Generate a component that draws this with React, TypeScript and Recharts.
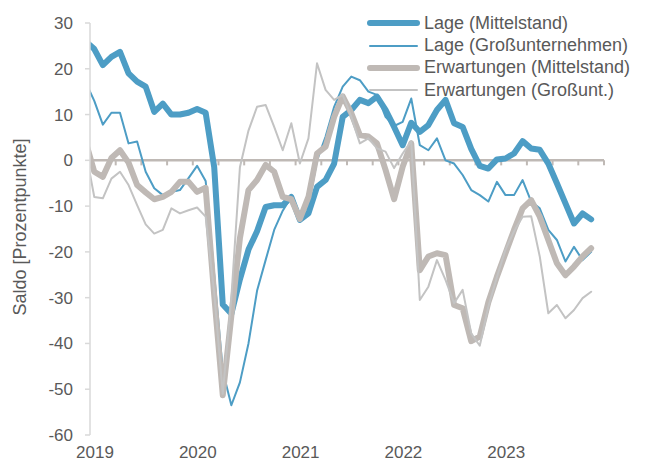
import { LineChart, Line, XAxis, YAxis, ReferenceLine } from 'recharts'

// Monatswerte Dez 2018 bis Nov 2023 (Dez 2018 liegt links außerhalb der Achse und wird abgeschnitten)
const lageMittelstand = [
  26, 24.3, 20.8, 22.6, 23.7, 19, 17.2, 16.1, 10.6, 12.4, 10, 10, 10.4,
  11.2, 10.4, -1.5, -31.5, -33.5, -26, -19.5, -15.5, -10.2, -9.8, -9.8, -8,
  -13, -11.6, -5.8, -4.3, -0.7, 9.5, 11, 13.2, 12.5, 13.9, 11, 7.3,
  3.3, 8.2, 6.2, 7.7, 11, 13.2, 8.1, 7.3, 2.5, -1.2, -1.8, 0.2,
  0.4, 1.5, 4.2, 2.6, 2.3, -0.7, -5, -9.4, -13.8, -11.6, -12.9,
]
const lageGross = [
  17, 13, 7.8, 10.4, 10.4, 3.7, 4.1, -2.5, -6.1, -7.6, -6.9, -6.5, -3.9,
  -1.2, -4.5, -25, -46, -53.5, -48.5, -40, -28.5, -21.8, -15.2, -11, -8,
  -12.3, -10.1, 0, 5.2, 11.7, 16.1, 18.3, 17.5, 15, 14.3, 9.5, 7.5,
  8.4, 13.5, 3.3, 2.2, 4.8, 0, -0.7, -3.2, -6.5, -7.6, -9, -4.7,
  -7.6, -7.6, -4.3, -9, -10.5, -15.2, -17.4, -22.1, -18.9, -21.8, -20,
]
const erwartungenMittelstand = [
  4, -2.5, -3.6, 0.5, 2.2, -0.5, -5.4, -7, -8.5, -8, -6.9, -4.7, -4.7,
  -6.9, -6, -29.5, -51.3, -34, -17, -6.5, -4.3, -1, -2.5, -8, -8.5,
  -12.8, -8, 1.5, 3, 9.5, 14, 10.3, 5.5, 5.2, 3.7, -2.1, -8.5,
  -1.4, 3.7, -24, -21, -20.3, -20.7, -31.6, -32.3, -39.5, -38.5, -31, -25.4,
  -20.3, -15.2, -10.5, -8.7, -12.3, -17.4, -22.5, -25.1, -23.2, -21, -19.2,
]
const erwartungenGross = [
  2, -8, -8.3, -4, -2.5, -5.4, -9.8, -14, -16, -15.2, -10.5, -11.6, -10.9,
  -10.3, -12.3, -29, -51, -30, -1.5, 6.5, 11.7, 12.1, 7.3, 2.2, 8.1,
  -0.7, 4.8, 21.2, 15.4, 13.2, 14.3, 9.5, 3.7, 4.8, 2.6, 1.9, -1.7,
  1.5, 4.2, -30.5, -27.6, -21.8, -26.1, -31.2, -28.3, -37.8, -40.5, -32, -25.5,
  -19.5, -15.5, -12.3, -12.2, -21, -33.4, -31.6, -34.5, -32.7, -30.1, -28.7,
]

const yearTicks = [0, 12, 24, 36, 48]
const yearLabels = ['2019', '2020', '2021', '2022', '2023']
const quarterTicks = [3, 6, 9, 12, 15, 18, 21, 24, 27, 30, 33, 36, 39, 42, 45, 48, 51, 54, 57, 60]
const yTicks = [-60, -50, -40, -30, -20, -10, 0, 10, 20, 30]

const series = [
  { key: 'lm', name: 'Lage (Mittelstand)', color: '#4d9dc5', width: 6 },
  { key: 'lg', name: 'Lage (Großunternehmen)', color: '#4d9dc5', width: 2 },
  { key: 'em', name: 'Erwartungen (Mittelstand)', color: '#bfb9b5', width: 6 },
  { key: 'eg', name: 'Erwartungen (Großunt.)', color: '#c3c3c3', width: 2 },
]

// Monatsmitte als Position, 0 = Anfang 2019
const data = lageMittelstand.map((v, i) => ({
  t: i - 0.5,
  lm: v,
  lg: lageGross[i],
  em: erwartungenMittelstand[i],
  eg: erwartungenGross[i],
}))

const textColor = '#595959'
const font = '"Liberation Sans", Arial, sans-serif'

function LegendBox() {
  return (
    <div style={{ position: 'absolute', left: 364, top: 12, fontSize: 18, color: textColor }}>
      {series.map((s) => (
        <div key={s.key} style={{ display: 'flex', alignItems: 'center', height: 22.4 }}>
          <svg width={57} height={10} style={{ display: 'block' }}>
            <line x1={6} y1={5} x2={53} y2={5} stroke={s.color} strokeWidth={s.width} strokeLinecap="round" />
          </svg>
          <span style={{ marginLeft: 3, whiteSpace: 'nowrap' }}>{s.name}</span>
        </div>
      ))}
    </div>
  )
}

export default function App() {
  return (
    <div style={{ position: 'absolute', left: 0, top: 0, width: 650, height: 466, background: '#fff', fontFamily: font }}>
      <LineChart width={650} height={466} data={data} margin={{ top: 23, right: 46, left: 30, bottom: 1 }}>
        <XAxis
          type="number"
          dataKey="t"
          domain={[0, 60]}
          allowDataOverflow
          ticks={yearTicks}
          tickFormatter={(v) => yearLabels[yearTicks.indexOf(v)]}
          axisLine={false}
          tickLine={false}
          height={30}
          tickMargin={5}
          dx={5}
          tick={{ fontSize: 17, fill: textColor }}
        />
        <YAxis
          domain={[-60, 30]}
          ticks={yTicks}
          width={60}
          axisLine={{ stroke: '#d9d9d9', strokeWidth: 1.5 }}
          tickLine={{ stroke: '#d9d9d9', strokeWidth: 1.5 }}
          tickSize={5}
          tickMargin={12}
          tick={{ fontSize: 17, fill: textColor }}
        />
        <ReferenceLine y={0} stroke="#bfb9b5" strokeWidth={2.5} />
        {quarterTicks.map((q) => (
          <ReferenceLine
            key={q}
            segment={[{ x: q, y: 0 }, { x: q, y: -1.1 }]}
            stroke="#bfb9b5"
            strokeWidth={2}
          />
        ))}
        {series.map((s) => (
          <Line
            key={s.key}
            type="linear"
            dataKey={s.key}
            name={s.name}
            stroke={s.color}
            strokeWidth={s.width}
            strokeLinejoin="round"
            strokeLinecap="round"
            dot={false}
            activeDot={false}
            isAnimationActive={false}
          />
        ))}
      </LineChart>
      <LegendBox />
      <div
        style={{
          position: 'absolute',
          left: 20,
          top: 227,
          transform: 'translate(-50%, -50%) rotate(-90deg)',
          whiteSpace: 'nowrap',
          fontSize: 18,
          color: textColor,
        }}
      >
        Saldo [Prozentpunkte]
      </div>
    </div>
  )
}
